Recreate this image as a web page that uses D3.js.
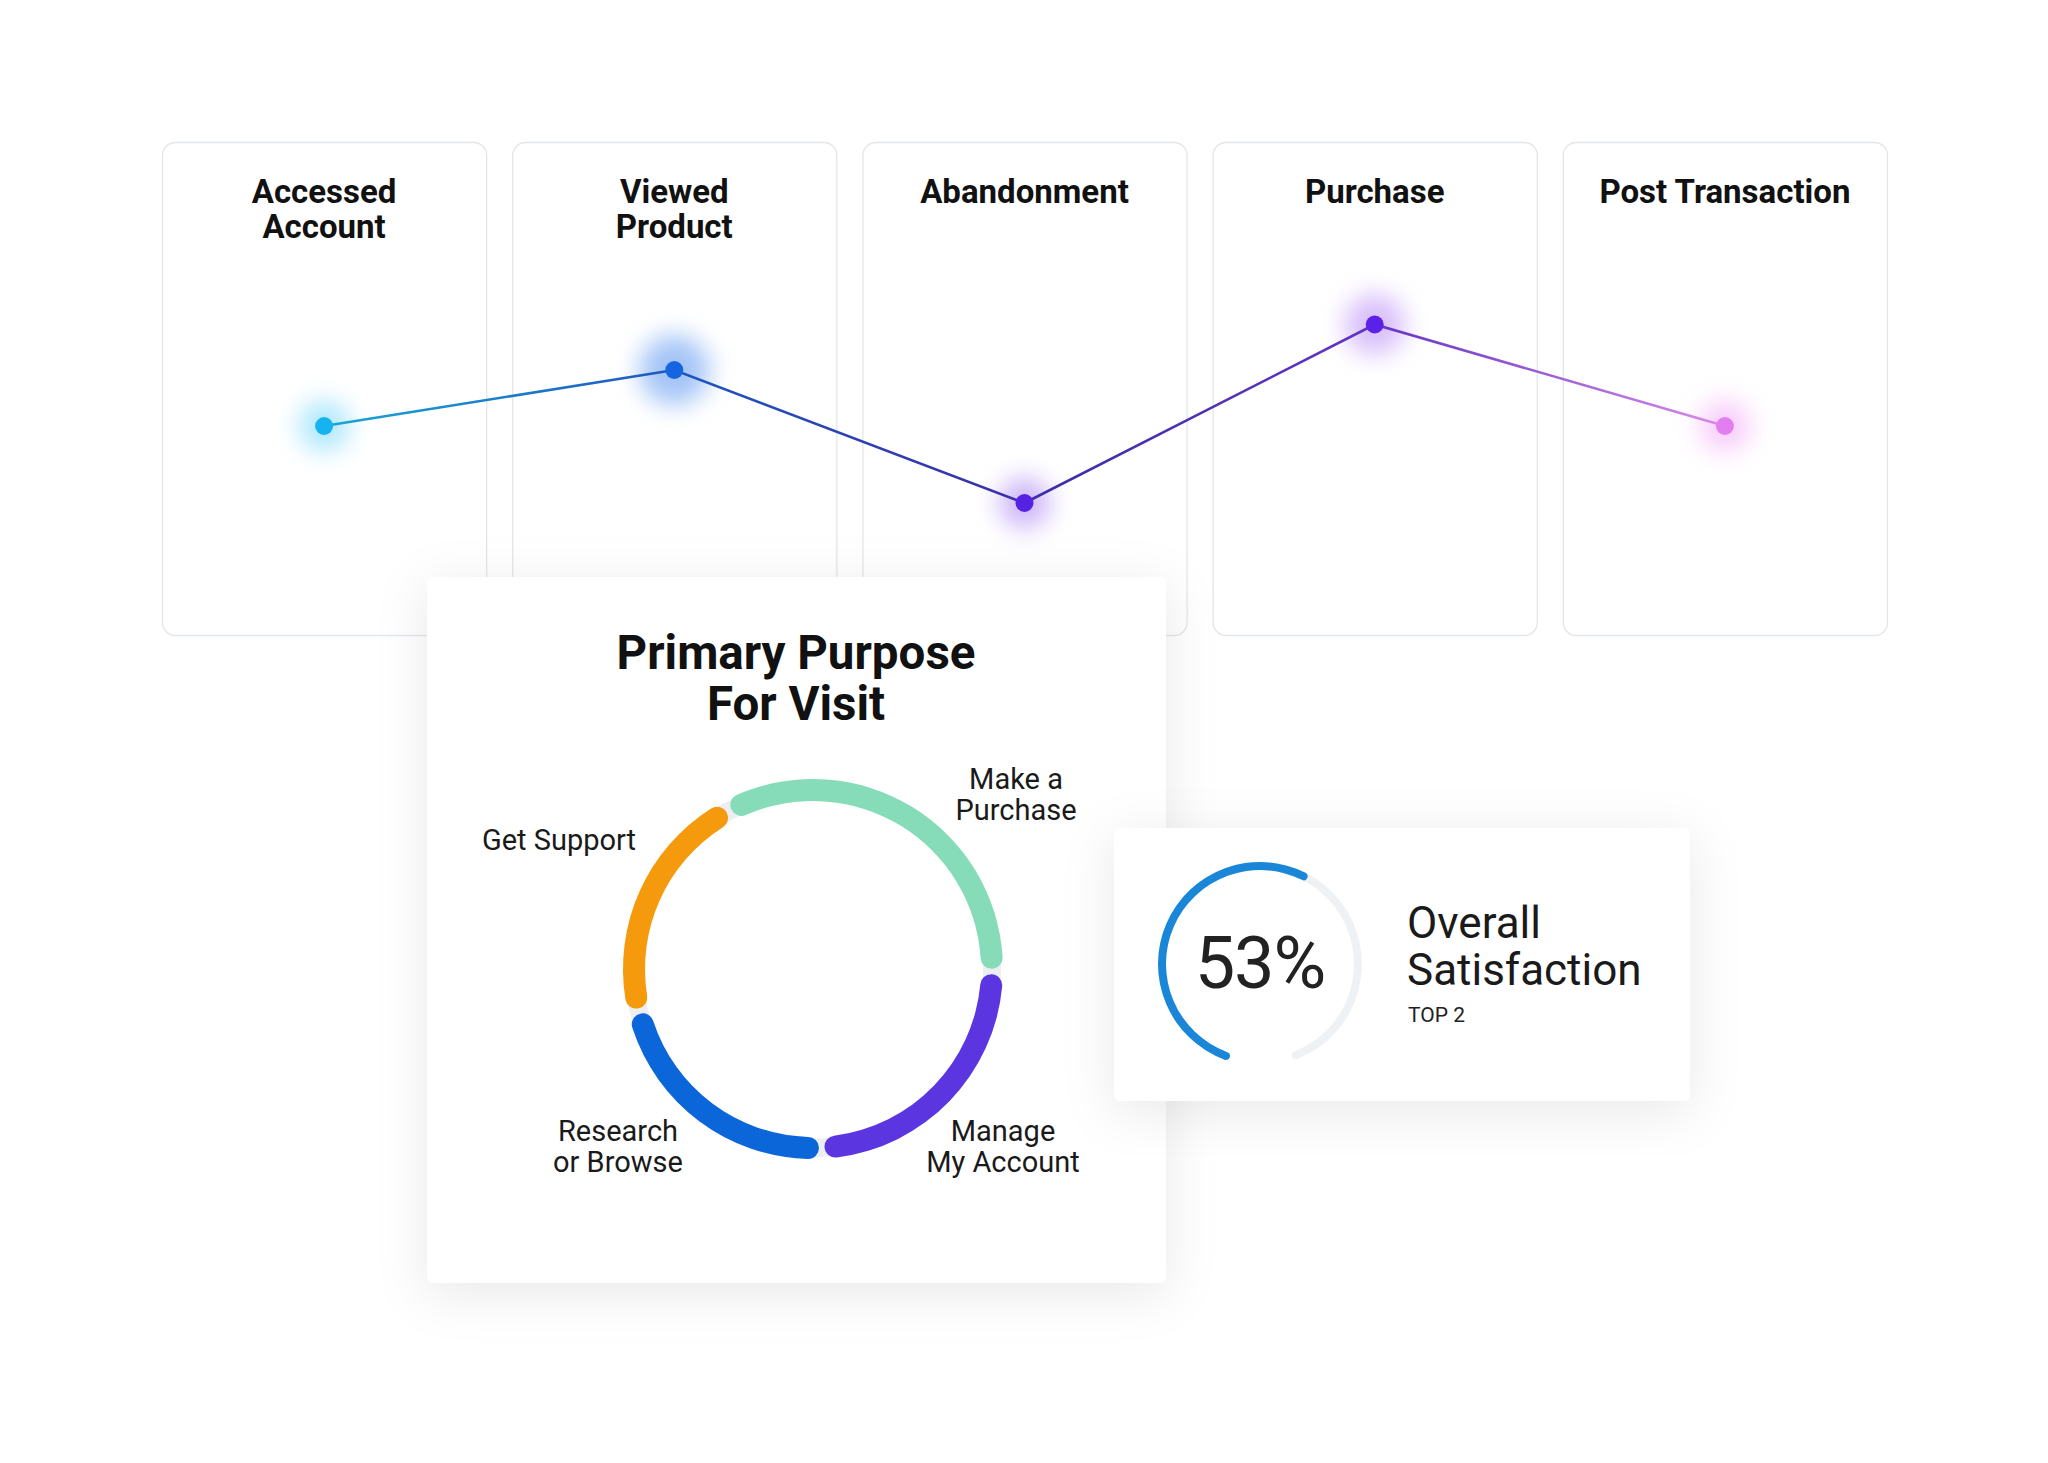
<!DOCTYPE html>
<html><head><meta charset="utf-8">
<script src="https://cdn.jsdelivr.net/npm/d3@7"></script>
<style>html,body{margin:0;padding:0;background:#fff;} svg{display:block;font-family:Roboto,"Noto Sans",sans-serif;}</style>
</head><body><svg id="chart" width="2048" height="1463"></svg>
<script>
// ---------- data ----------
const stages = ["Accessed Account","Viewed Product","Abandonment","Purchase","Post Transaction"];
const stageTitleLines = [["Accessed","Account"],["Viewed","Product"],["Abandonment"],["Purchase"],["Post Transaction"]];
const stageScores = [62, 70, 51, 76.5, 62];
const stageDotColors = ["#16b4ef","#1764e0","#5622e2","#5a22e8","#e27ef0"];
const stageGlowColors = ["#6fd6fa","#5a94f0","#a47cf2","#b98af7","#f3a6f8"];
const stageGlowSizes = [32, 44, 32, 38, 32];

const purposeLabels = ["Make a Purchase","Manage My Account","Research or Browse","Get Support"];
const purposeLabelLines = [["Make a","Purchase"],["Manage","My Account"],["Research","or Browse"],["Get Support"]];
const purposeShares = [33, 24, 22, 21];
const purposeColors = ["#86dcb9","#5b36e0","#0b66d9","#f59a0c"];

const satisfactionValue = 53;
const satisfactionTitle = ["Overall","Satisfaction"];
const satisfactionSub = "TOP 2";

// ---------- layout ----------
const svg = d3.select("#chart");
const defs = svg.append("defs");
const deg = Math.PI/180;

const fShadow = defs.append("filter").attr("id","panelShadow")
  .attr("x","-20%").attr("y","-20%").attr("width","140%").attr("height","140%");
fShadow.append("feDropShadow").attr("dx",0).attr("dy",10).attr("stdDeviation",26)
  .attr("flood-color","#000").attr("flood-opacity",0.09);

const fGlow = defs.append("filter").attr("id","glow")
  .attr("x","-100%").attr("y","-100%").attr("width","300%").attr("height","300%");
fGlow.append("feGaussianBlur").attr("stdDeviation",12);

const x = d3.scaleBand().domain(stages).range([162, 1887]).paddingInner(0.0743).paddingOuter(0);
const y = d3.scaleLinear().domain([0,100]).range([860,160]);
const cardTop = 142, cardBottom = 635;
const cx = d => x(d) + x.bandwidth()/2;

// cards
const cards = svg.append("g");
cards.selectAll("rect").data(stages).join("rect")
  .attr("x", d => x(d)+0.5).attr("y", cardTop+0.5)
  .attr("width", x.bandwidth()).attr("height", cardBottom-cardTop)
  .attr("rx", 13).attr("fill","#fff").attr("stroke","#e3e6e9").attr("stroke-width",1.3);

stages.forEach((s,i) => {
  const t = cards.append("text").attr("x", cx(s)).attr("y", 203)
    .attr("text-anchor","middle").attr("font-weight",700).attr("font-size",33).attr("fill","#111");
  stageTitleLines[i].forEach((ln,j) => t.append("tspan").attr("x",cx(s)).attr("dy", j===0?0:35).text(ln));
});

// line gradient
const pts = stages.map((s,i) => ({s, x: cx(s), y: y(stageScores[i]), c: stageDotColors[i], g: stageGlowColors[i], r: stageGlowSizes[i]}));
const lg = defs.append("linearGradient").attr("id","lineGrad").attr("gradientUnits","userSpaceOnUse")
  .attr("x1", pts[0].x).attr("x2", pts[4].x).attr("y1",0).attr("y2",0);
const lineStops = ["#1aa6d8","#1d56bf","#3b2ea6","#6434c4","#d98be8"];
lineStops.forEach((c,i) => lg.append("stop").attr("offset", i/(lineStops.length-1)).attr("stop-color", c));

const lineG = svg.append("g");
lineG.selectAll("circle.glow").data(pts).join("circle").attr("class","glow")
  .attr("cx", d=>d.x).attr("cy", d=>d.y).attr("r", d=>d.r*0.8)
  .attr("fill", d=>d.g).attr("opacity",0.55).attr("filter","url(#glow)");
lineG.append("path").datum(pts)
  .attr("d", d3.line().x(d=>d.x).y(d=>d.y))
  .attr("fill","none").attr("stroke","url(#lineGrad)").attr("stroke-width",2.6);
lineG.selectAll("circle.dot").data(pts).join("circle").attr("class","dot")
  .attr("cx", d=>d.x).attr("cy", d=>d.y).attr("r", 9).attr("fill", d=>d.c);

// ---------- Primary purpose panel ----------
const P = {x:427, y:577, w:739, h:706};
svg.append("rect").attr("x",P.x).attr("y",P.y).attr("width",P.w).attr("height",P.h)
  .attr("rx",6).attr("fill","#fff").attr("filter","url(#panelShadow)");
const pt = svg.append("text").attr("x", P.x+369).attr("y", 669).attr("text-anchor","middle")
  .attr("font-weight",700).attr("font-size",47.5).attr("fill","#111");
pt.append("tspan").attr("x",P.x+369).text("Primary Purpose");
pt.append("tspan").attr("x",P.x+369).attr("dy",51).text("For Visit");

const donutC = {x:813, y:969};
const outerR = 190, ringW = 22;
const pie = d3.pie().value(d=>d).sort(null).startAngle(-28*deg).endAngle(332*deg);
const arcs = pie(purposeShares);
const donut = svg.append("g").attr("transform",`translate(${donutC.x},${donutC.y})`);
donut.append("path").attr("d", d3.arc().innerRadius(outerR-ringW+2).outerRadius(outerR-2)({startAngle:0,endAngle:2*Math.PI}))
  .attr("fill","#eceef1");
donut.selectAll("path.seg").data(arcs).join("path").attr("class","seg")
  .attr("d", d3.arc().innerRadius(outerR-ringW).outerRadius(outerR).cornerRadius(ringW/2).padAngle(0.022))
  .attr("fill", (d,i)=>purposeColors[i]);

const labelPos = [{dx:203,dy:-180},{dx:190,dy:172},{dx:-195,dy:172},{dx:-254,dy:-119}];
purposeLabelLines.forEach((lines,i) => {
  const t = svg.append("text").attr("x", donutC.x+labelPos[i].dx).attr("y", donutC.y+labelPos[i].dy)
    .attr("text-anchor","middle").attr("font-size",29).attr("fill","#1a1a1a");
  lines.forEach((ln,j)=> t.append("tspan").attr("x", donutC.x+labelPos[i].dx).attr("dy", j===0?0:31).text(ln));
});

// ---------- Satisfaction panel ----------
const S = {x:1114, y:828, w:576, h:273};
svg.append("rect").attr("x",S.x).attr("y",S.y).attr("width",S.w).attr("height",S.h)
  .attr("rx",6).attr("fill","#fff").attr("filter","url(#panelShadow)");
const gC = {x:1260, y:964};
const gauge = svg.append("g").attr("transform",`translate(${gC.x},${gC.y})`);
const gStart = 198*deg, gEnd = 521*deg;
const gArc = d3.arc().innerRadius(94).outerRadius(102).cornerRadius(4);
gauge.append("path").attr("d", gArc({startAngle:gStart, endAngle:gEnd})).attr("fill","#eff2f4");
gauge.append("path").attr("d", gArc({startAngle:gStart, endAngle:gStart + satisfactionValue/100*2*Math.PI})).attr("fill","#1a86d8");
svg.append("text").attr("x", gC.x).attr("y", 988).attr("text-anchor","middle")
  .attr("font-size",72).attr("letter-spacing",-1).attr("fill","#222").text(satisfactionValue+"%");
const st = svg.append("text").attr("x",1407).attr("y",938).attr("font-size",44).attr("fill","#1a1a1a");
satisfactionTitle.forEach((ln,j)=> st.append("tspan").attr("x",1407).attr("dy", j===0?0:47).text(ln));
svg.append("text").attr("x",1408).attr("y",1022).attr("font-size",21).attr("fill","#222").text(satisfactionSub);
</script></body></html>
